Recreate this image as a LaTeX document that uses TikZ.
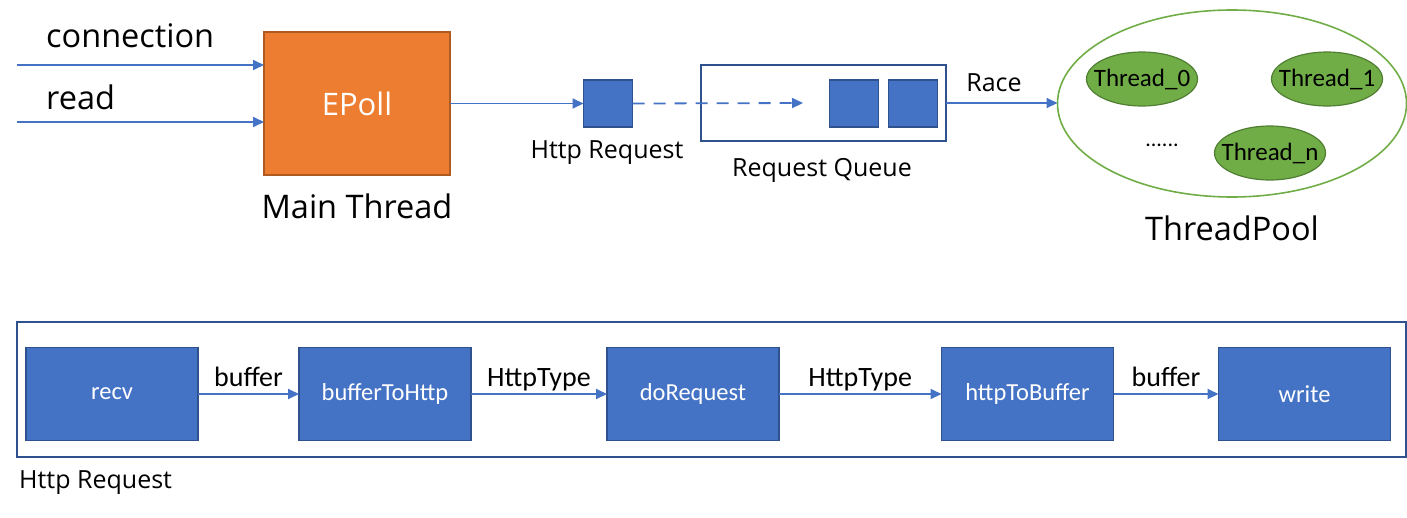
\documentclass[tikz,border=0pt]{standalone}
\usepackage{fontspec}
\setmainfont{Open Sans}
\newfontfamily\carlitofont{Carlito}
\usetikzlibrary{arrows.meta,shapes.geometric}
\definecolor{bfill}{HTML}{4472C4}
\definecolor{bdraw}{HTML}{2F528F}
\definecolor{ofill}{HTML}{ED7D31}
\definecolor{odraw}{HTML}{AE5A21}
\definecolor{gfill}{HTML}{70AD47}
\definecolor{gdraw}{HTML}{507E32}
\tikzset{
  conn/.style={draw=bfill, line width=1.8pt, -{Triangle[length=11pt,width=10pt]}},
  bluebox/.style={draw=bdraw, fill=bfill, line width=1.6pt, inner sep=0pt, outer sep=0pt},
  procbox/.style={bluebox, minimum width=172pt, minimum height=93pt, text=white, font=\carlitofont\fontsize{24.5}{28}\selectfont},
  sq/.style={bluebox, minimum width=49pt, minimum height=47pt},
  thr/.style={ellipse, draw=gdraw, fill=gfill, line width=1.2pt, minimum width=111pt, minimum height=54pt, inner xsep=-14pt, inner ysep=0pt, font=\carlitofont\fontsize{25}{28}\selectfont},
  lbl/.style={inner sep=0pt, font=\carlitofont\fontsize{28}{32}\selectfont},
  big/.style={inner sep=0pt, font=\fontsize{32.5}{38}\selectfont},
  mid/.style={inner sep=0pt, font=\fontsize{25}{30}\selectfont}
}
\begin{document}
\begin{tikzpicture}[x=1pt,y=-1pt]
\useasboundingbox (0,0) rectangle (1407,517);
% top row
\node[draw=odraw, fill=ofill, line width=1.6pt, minimum width=186pt, minimum height=143pt, inner sep=0pt, outer sep=0pt, text=white, font=\fontsize{31}{36}\selectfont] (epoll) at (357,103.5) {EPoll};
\coordinate (c1) at (17,65);
\coordinate (c2) at (17,122);
\draw[conn] (c1) -- (c1 -| epoll.west);
\draw[conn] (c2) -- (c2 -| epoll.west);
\node[big, anchor=west] (tconn) at (46,36) {connection};
\node[big, anchor=west] (tread) at (46,97) {read};
\node[big] (tmain) at (357,206) {Main Thread};
\node[sq] (req) at (608,103.5) {};
\draw[conn] (epoll.east |- req) -- (req.west);
\node[mid] (treq) at (607,153) {Http Request};
\node[draw=bdraw, line width=1.6pt, minimum width=245pt, minimum height=76pt, inner sep=0pt, outer sep=0pt] (queue) at (823.5,103) {};
\node[sq] (q1) at (854,103.5) {};
\node[sq] (q2) at (913,103.5) {};
\coordinate (dend) at (803,103);
\draw[conn, dash pattern=on 12pt off 9pt] (req.east) -- (dend);
\node[mid] (tqueue) at (822,170) {Request Queue};
\node[ellipse, draw=gfill, line width=1.6pt, minimum width=349pt, minimum height=187pt, inner sep=0pt, outer sep=0pt] (pool) at (1232,103.5) {};
\draw[conn] (queue.east) -- (queue.east -| pool.west);
\node[mid] (trace) at (994,83) {Race};
\node[thr] (t0) at (1142,79) {Thread\_0};
\node[thr] (t1) at (1327,79) {Thread\_1};
\node[thr] (tn) at (1270,153) {Thread\_n};
\node[inner sep=0pt, anchor=base, font=\carlitofont\fontsize{22}{26}\selectfont] (dots) at (1162,146) {......};
\node[big] (tpool) at (1232,228) {ThreadPool};
% bottom row
\node[draw=bdraw, line width=1.6pt, minimum width=1389pt, minimum height=135pt, inner sep=0pt, outer sep=0pt] (outer) at (711.5,389.5) {};
\node[mid, anchor=west] (thttp) at (19,483) {Http Request};
\node[procbox] (recv) at (112,394) {recv};
\node[procbox] (b2h) at (385,394) {bufferToHttp};
\node[procbox] (doreq) at (693,394) {doRequest};
\node[procbox] (h2b) at (1027.5,394) {httpToBuffer};
\node[procbox] (write) at (1304.5,394) {write};
\draw[conn] (recv) -- (b2h) node[lbl, midway, anchor=base, yshift=7.5pt] {buffer};
\draw[conn] (b2h) -- (doreq) node[lbl, midway, anchor=base, yshift=7.5pt] {HttpType};
\draw[conn] (doreq) -- (h2b) node[lbl, midway, anchor=base, yshift=7.5pt] {HttpType};
\draw[conn] (h2b) -- (write) node[lbl, midway, anchor=base, yshift=7.5pt] {buffer};
\end{tikzpicture}
\end{document}
